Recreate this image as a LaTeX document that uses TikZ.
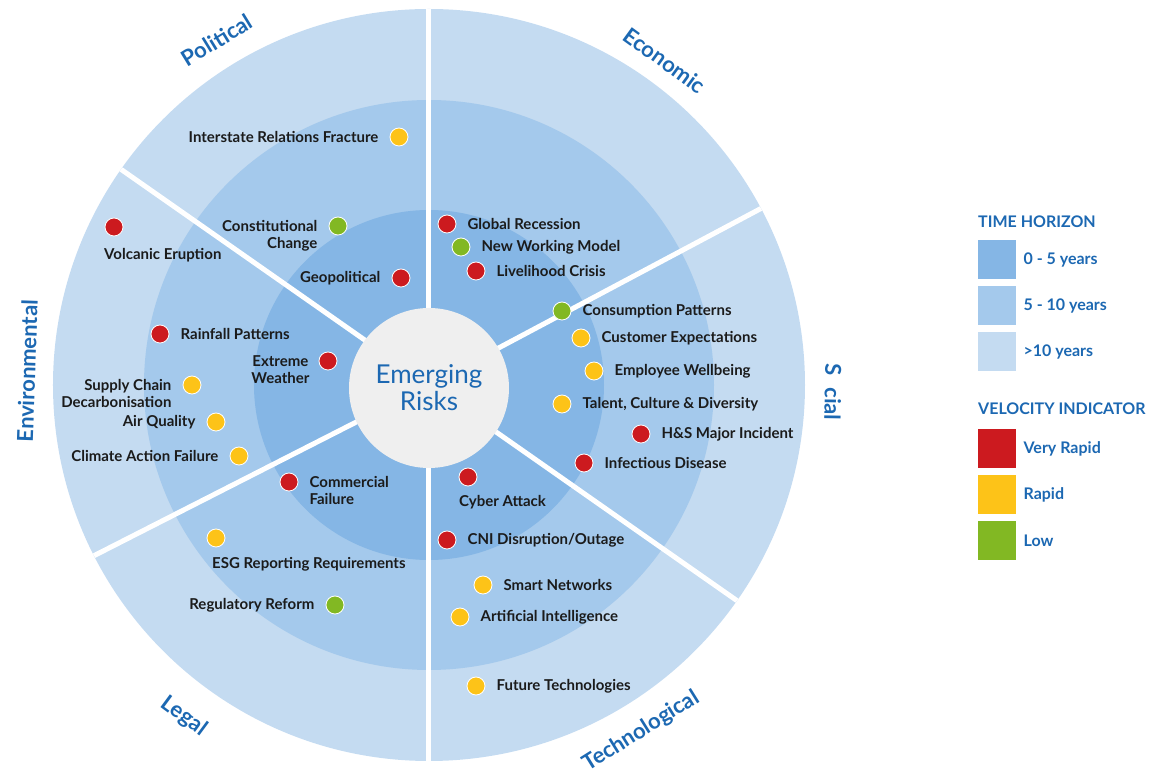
\documentclass[tikz,border=0pt]{standalone}
\usepackage{fontspec}
\setmainfont{Lato}
\usetikzlibrary{positioning}
\definecolor{ringout}{HTML}{C4DBF1}
\definecolor{ringmid}{HTML}{A4C9EC}
\definecolor{ringin}{HTML}{85B6E5}
\definecolor{hub}{HTML}{EFEFEF}
\definecolor{label}{HTML}{1C68B2}
\definecolor{veryrapid}{HTML}{CC1A1F}
\definecolor{rapid}{HTML}{FDC318}
\definecolor{low}{HTML}{82B823}
\definecolor{ink}{HTML}{1B1B1B}

\begin{document}
\begin{tikzpicture}[
                x=1pt,y=1pt,
                dot/.style={circle,draw=white,line width=0.8pt,minimum size=18pt,inner sep=0pt},
                vr/.style={dot,fill=veryrapid},
                rp/.style={dot,fill=rapid},
                lw/.style={dot,fill=low},
                risk/.style={inner sep=0pt,text=ink,font=\fontsize{15}{17}\selectfont\bfseries},
                sector/.style={text=label,font=\fontsize{22}{22}\selectfont\bfseries},
                key/.style={minimum width=38pt,minimum height=39pt,inner sep=0pt},
                keytext/.style={inner sep=0pt,text=label,font=\fontsize{16}{18}\selectfont\bfseries},
                node distance=11pt
            ]
                \useasboundingbox (-429,-390) rectangle (722,385);
                \fill[ringout] (0,0) circle (376);
                \fill[ringmid] (0,0) circle (285);
                \fill[ringin] (0,0) circle (175);
                \foreach \a in {90,145,207,270,325,28} {
                    \draw[white,line width=5pt] (0,0) -- (\a:376);
                }
                \node[circle,fill=hub,minimum size=160pt,inner sep=0pt,text=label,align=center,
                      font=\fontsize{26}{27}\selectfont] (core) at (0,-3) {Emerging\\Risks};

                \node[sector,rotate=31.6] (political) at (121.6:405) {Political};
                \node[sector,rotate=-36] (economic) at (54:401) {Economic};
                \node[sector,rotate=-91] (social) at (-1:404) {S\hspace{0.3em} cial};
                \node[sector,rotate=32] (technological) at (-58.5:406) {Technological};
                \node[sector,rotate=-36.5] (legal) at (233.5:412) {Legal};
                \node[sector,rotate=88] (environmental) at (178:402) {Environmental};

                \node[rp] (irf) at (-30,248) {};
                \node[risk,left=of irf] {Interstate Relations Fracture};
                \node[lw] (cc) at (-91,159) {};
                \node[risk,align=right,left=of cc,anchor=north east,yshift=5.5pt] {Constitutional\\Change};
                \node[vr] (geo) at (-28,107) {};
                \node[risk,left=of geo] {Geopolitical};

                \node[vr] (ve) at (-315,158) {};
                \node[risk,anchor=west] at ([xshift=-10pt,yshift=-28pt]ve) {Volcanic Eruption};
                \node[vr] (rain) at (-269,51) {};
                \node[risk,right=of rain] {Rainfall Patterns};
                \node[vr] (ew) at (-101,24) {};
                \node[risk,align=center,left=9pt of ew,anchor=north east,yshift=5.5pt] {Extreme\\Weather};
                \node[rp] (scd) at (-237,0) {};
                \node[risk,align=right,left=of scd,anchor=north east,yshift=5.5pt] {Supply Chain\\Decarbonisation};
                \node[rp] (air) at (-213,-37) {};
                \node[risk,left=of air] {Air Quality};
                \node[rp] (caf) at (-190,-71) {};
                \node[risk,left=of caf] {Climate Action Failure};

                \node[vr] (cf) at (-140,-97) {};
                \node[risk,align=left,right=of cf,anchor=north west,yshift=5.5pt] {Commercial\\Failure};
                \node[rp] (esg) at (-213,-153) {};
                \node[risk,anchor=west] at ([xshift=-4pt,yshift=-26pt]esg) {ESG Reporting Requirements};
                \node[lw] (reg) at (-94,-220) {};
                \node[risk,left=of reg] {Regulatory Reform};

                \node[vr] (gr) at (18,161) {};
                \node[risk,right=of gr] {Global Recession};
                \node[lw] (nwm) at (32,138) {};
                \node[risk,right=of nwm] {New Working Model};
                \node[vr] (lc) at (47,114) {};
                \node[risk,right=of lc] {Livelihood Crisis};

                \node[lw] (cp) at (133,74) {};
                \node[risk,right=of cp] {Consumption Patterns};
                \node[rp] (ce) at (152,47) {};
                \node[risk,right=of ce] {Customer Expectations};
                \node[rp] (emp) at (165,14) {};
                \node[risk,right=of emp] {Employee Wellbeing};
                \node[rp] (tcd) at (133,-19) {};
                \node[risk,right=of tcd] {Talent, Culture \& Diversity};
                \node[vr] (hs) at (212,-49) {};
                \node[risk,right=of hs] {H\&S Major Incident};
                \node[vr] (inf) at (155,-78) {};
                \node[risk,right=of inf] {Infectious Disease};

                \node[vr] (cyb) at (39,-92) {};
                \node[risk,anchor=west] at ([xshift=-9pt,yshift=-25pt]cyb) {Cyber Attack};
                \node[vr] (cni) at (18,-155) {};
                \node[risk,right=of cni] {CNI Disruption/Outage};
                \node[rp] (sn) at (54,-200) {};
                \node[risk,right=of sn] {Smart Networks};
                \node[rp] (ai) at (31,-232) {};
                \node[risk,right=of ai] {Artificial Intelligence};
                \node[rp] (ft) at (47,-301) {};
                \node[risk,right=of ft] {Future Technologies};

                \node[keytext,anchor=west] (th) at (549,163) {TIME HORIZON};
                \node[key,fill=ringin,anchor=north west] (k1) at (549,145) {};
                \node[key,fill=ringmid,below=6.5pt of k1] (k2) {};
                \node[key,fill=ringout,below=6.5pt of k2] (k3) {};
                \node[keytext,right=7pt of k1] {0 - 5 years};
                \node[keytext,right=7pt of k2] {5 - 10 years};
                \node[keytext,right=7pt of k3] {>10 years};

                \node[keytext,anchor=west] (vi) at (549,-24) {VELOCITY INDICATOR};
                \node[key,fill=veryrapid,anchor=north west] (v1) at (549,-44) {};
                \node[key,fill=rapid,below=6.5pt of v1] (v2) {};
                \node[key,fill=low,below=6.5pt of v2] (v3) {};
                \node[keytext,right=7pt of v1] {Very Rapid};
                \node[keytext,right=7pt of v2] {Rapid};
                \node[keytext,right=7pt of v3] {Low};
            \end{tikzpicture}
\end{document}
